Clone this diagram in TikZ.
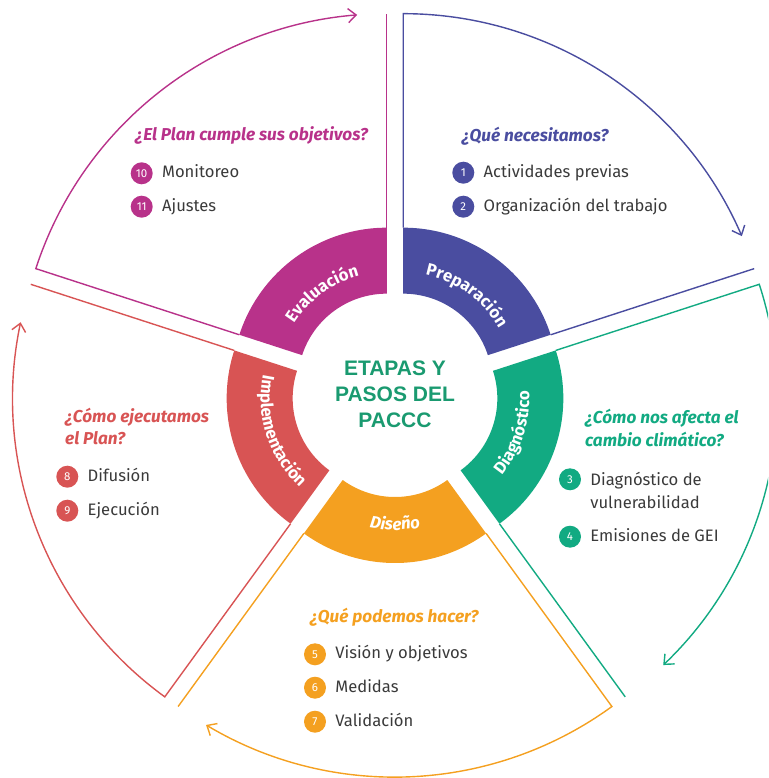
\documentclass[tikz,border=0pt]{standalone}
\usepackage{fontspec}
\setmainfont{Fira Sans}
\newfontfamily\titlefont{Liberation Sans}
\usetikzlibrary{arrows.meta,positioning,decorations.text}

\definecolor{evalc}{HTML}{B8328A}
\definecolor{prepc}{HTML}{4A4DA0}
\definecolor{diagc}{HTML}{12AA82}
\definecolor{disec}{HTML}{F4A020}
\definecolor{implc}{HTML}{D85454}
\definecolor{titc}{HTML}{1A9A70}
\definecolor{txtc}{HTML}{3A3A3A}

\newcommand\lblfont{\bfseries\fontsize{16.8}{16.8}\selectfont\color{white}}
% bisector, radius, signed half span, text, format
\newcommand\ringlabel[5]{%
  \path[shift={(#1:14)}, decorate,
    decoration={text along path, text align=center, text={|#5|#4}}]
    (#1+#3:#2) arc[start angle=#1+#3, end angle=#1-#3, radius=#2];}

\tikzset{
  rim/.style={line width=1.4pt},
  arr/.style={-{Straight Barb[length=8pt,width=14pt]}},
  num/.style={circle, fill=#1, text=white, minimum size=22pt, inner sep=0pt,
    font=\fontsize{11.5}{11.5}\selectfont},
  item/.style={text=txtc, inner sep=0pt, text height=11pt, text depth=2pt,
    font=\fontsize{16.6}{23.5}\selectfont},
  item2/.style={text=txtc, inner sep=0pt, align=left, anchor=west,
    font=\fontsize{16.6}{23.5}\selectfont},
  ask/.style={text=#1, inner sep=0pt, align=left, anchor=west,
    font=\bfseries\itshape\fontsize{17.2}{22.5}\selectfont},
  title/.style={text=titc, align=center, inner sep=0pt,
    font=\titlefont\bfseries\fontsize{21}{26}\selectfont}
}

\begin{document}
\begin{tikzpicture}[x=1pt,y=1pt]
  \clip (-395,-384) rectangle (373,394);

  % ring pieces and outlines
  \foreach \b/\c/\st in {126/evalc/4.6, 54/prepc/5.4, -18/diagc/7.7, -90/disec/5.2, 198/implc/6.1}{
    \begin{scope}[shift={(\b:14)}]
      \fill[fill=\c] (\b-36:89) -- (\b-36:155) arc[start angle=\b-36, end angle=\b+36, radius=155]
        -- (\b+36:89) arc[start angle=\b+36, end angle=\b-36, radius=89] -- cycle;
      \draw[draw=\c, rim] (\b-36:155) -- (\b-36:369);
      \draw[draw=\c, rim, arr] (\b+36:155) -- (\b+36:369)
        arc[start angle=\b+36, end angle=\b-36+\st, radius=369];
    \end{scope}
  }

  \ringlabel{126}{110}{35}{Evaluación}{\lblfont}
  \ringlabel{54}{110}{35}{Preparación}{\lblfont}
  \ringlabel{-18}{121}{-35}{Diagnóstico}{\lblfont}
  \ringlabel{-90}{122}{-35}{Diseño}{\lblfont\itshape}
  \ringlabel{198}{121}{-35}{Implementación}{\lblfont}

  \node[title] (title) at (0,0) {ETAPAS Y\\PASOS DEL\\PACCC};

  % Evaluacion
  \node[ask=evalc] (qeval) at (-260,259) {¿El Plan cumple sus objetivos?};
  \node[num=evalc] (n10) at (-253.3,220.7) {10};
  \node[item, right=9pt of n10] (s10) {Monitoreo};
  \node[num=evalc] (n11) at (-253.3,187.3) {11};
  \node[item, right=9pt of n11] (s11) {Ajustes};

  % Preparacion
  \node[ask=prepc] (qprep) at (66.7,258) {¿Qué necesitamos?};
  \node[num=prepc] (n1) at (68.3,221.3) {1};
  \node[item, right=9pt of n1] (s1) {Actividades previas};
  \node[num=prepc] (n2) at (68.3,187.3) {2};
  \node[item, right=9pt of n2] (s2) {Organización del trabajo};

  % Diagnostico
  \node[ask=diagc] (qdiag) at (190,-34) {¿Cómo nos afecta el\\cambio climático?};
  \node[num=diagc] (n3) at (175,-85.3) {3};
  \node[item2] (s3) at ([xshift=9pt,yshift=-11pt]n3.east) {Diagnóstico de\\vulnerabilidad};
  \node[num=diagc] (n4) at (175,-142.7) {4};
  \node[item, right=9pt of n4] (s4) {Emisiones de GEI};

  % Diseno
  \node[ask=disec] (qdise) at (-85,-223.3) {¿Qué podemos hacer?};
  \node[num=disec] (n5) at (-80,-260.3) {5};
  \node[item, right=9pt of n5] (s5) {Visión y objetivos};
  \node[num=disec] (n6) at (-80,-293.7) {6};
  \node[item, right=9pt of n6] (s6) {Medidas};
  \node[num=disec] (n7) at (-80,-327.7) {7};
  \node[item, right=9pt of n7] (s7) {Validación};

  % Implementacion
  \node[ask=implc] (qimpl) at (-330,-32.7) {¿Cómo ejecutamos\\el Plan?};
  \node[num=implc] (n8) at (-327.7,-82.7) {8};
  \node[item, right=9pt of n8] (s8) {Difusión};
  \node[num=implc] (n9) at (-327.7,-116.7) {9};
  \node[item, right=9pt of n9] (s9) {Ejecución};
\end{tikzpicture}
\end{document}
